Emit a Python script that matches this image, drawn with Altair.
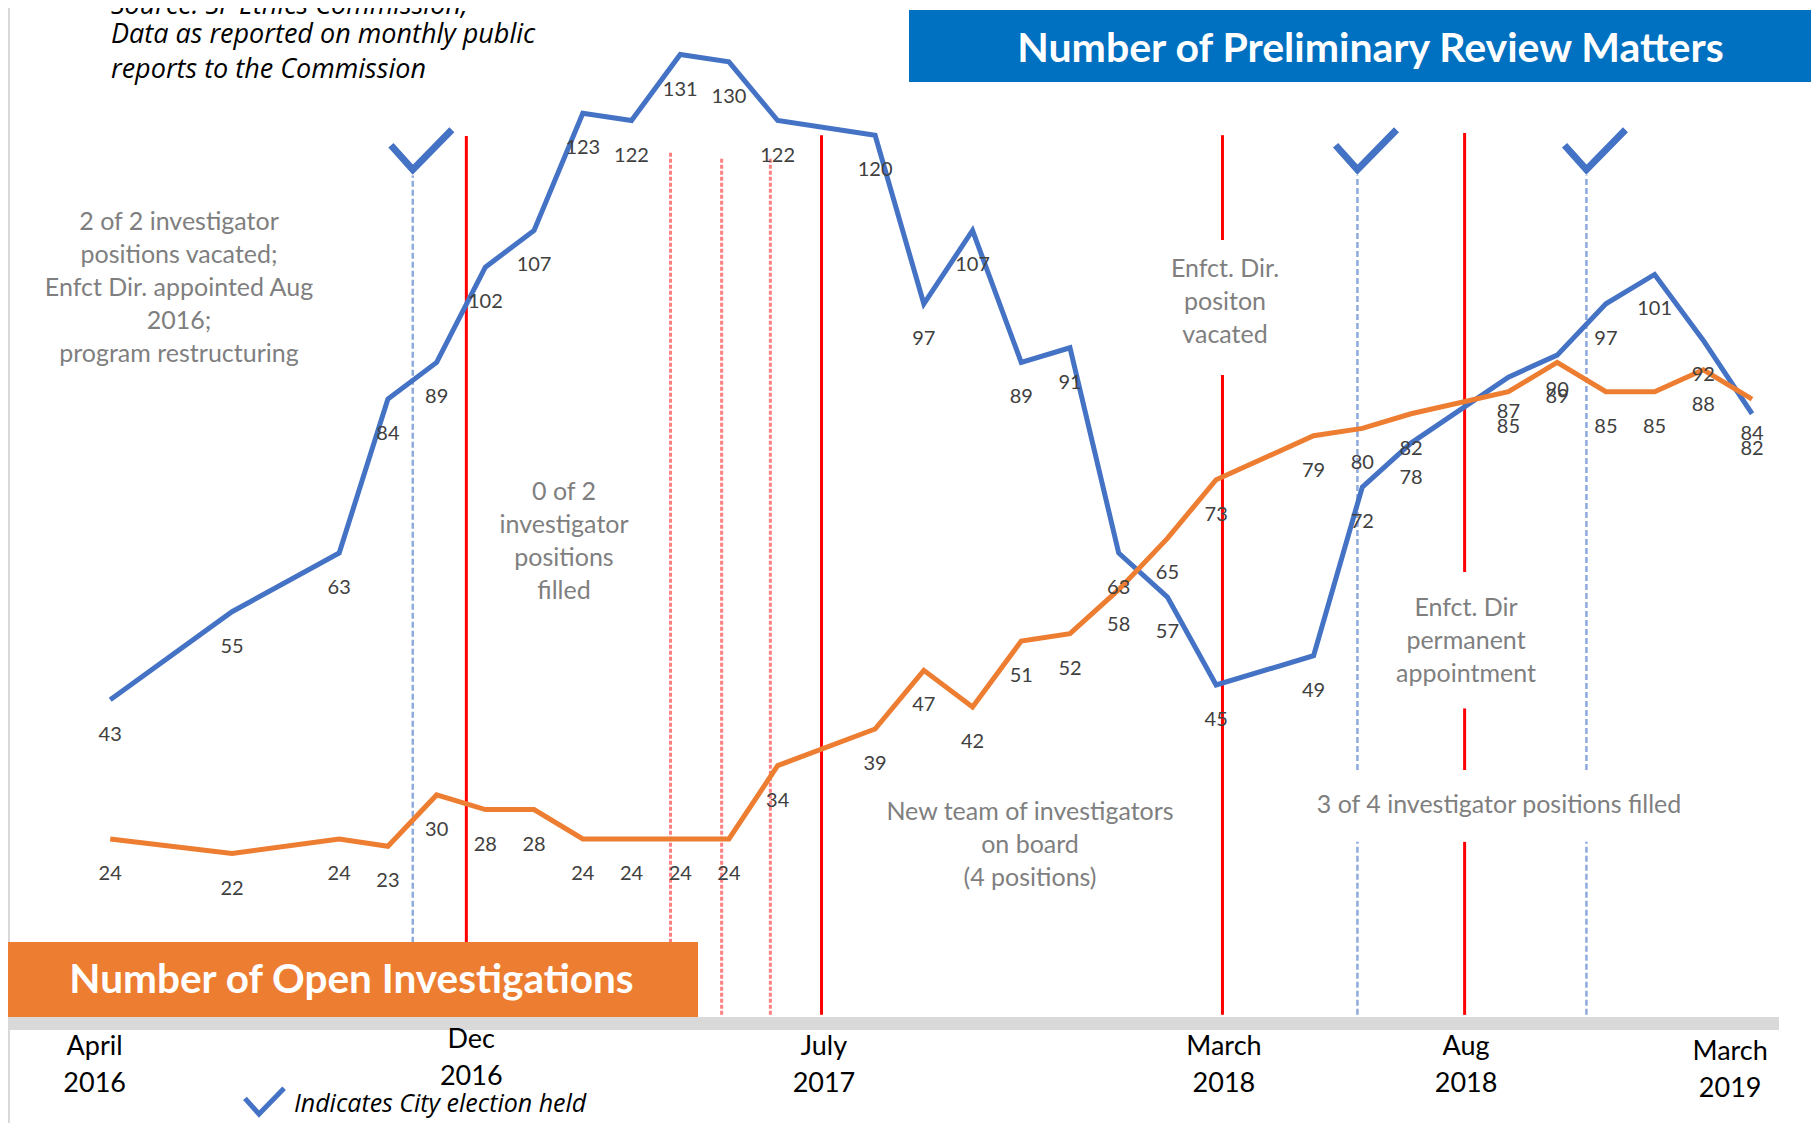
import altair as alt
import pandas as pd

# ---------------- data ----------------
# position of each monthly report on the time axis (one unit = one report step)
report_t = [0, 2.5, 4.7, 5.7, 6.7, 7.7, 8.7, 9.7, 10.7, 11.7, 12.7, 13.7, 15.7, 16.7, 17.7,
            18.7, 19.7, 20.7, 21.7, 22.7, 24.7, 25.7, 26.7, 28.7, 29.7, 30.7, 31.7, 32.7, 33.7]
preliminary = [43, 55, 63, 84, 89, 102, 107, 123, 122, 131, 130, 122, 120, 97, 107,
               89, 91, 63, 57, 45, 49, 72, 78, 87, 90, 97, 101, 92, 82]
investigations = [24, 22, 24, 23, 30, 28, 28, 24, 24, 24, 24, 34, 39, 47, 42,
                  51, 52, 58, 65, 73, 79, 80, 82, 85, 89, 85, 85, 88, 84]

# period labels under the axis
period_t = [-0.32, 7.41, 14.65, 22.86, 27.83, 33.25]
period_month = ["April", "Dec", "July", "March", "Aug", "March"]
period_year = ["2016", "2016", "2017", "2018", "2018", "2019"]

# events
election_t = [6.21, 25.6, 30.3]
check_level = 115.3
election_seg_t = [6.21, 25.6, 25.6, 30.3, 30.3]
election_seg_lo = [0, 0, 33.4, 0, 33.4]
election_seg_hi = [114.5, 23.6, 114.5, 23.6, 114.5]

staff_t = [7.31, 14.6, 22.83, 22.83, 27.8, 27.8, 27.8]
staff_lo = [0, 0, 0, 105.7, 0, 33.4, 60.4]
staff_hi = [119.9, 120, 87.3, 120, 23.6, 41.8, 120.3]

hire_t = [11.5, 12.55, 13.55]
hire_lo = [0, 0, 0]
hire_hi = [117.6, 117, 117]

notes = [
    "2 of 2 investigator\npositions vacated;\nEnfct Dir. appointed Aug\n2016;\nprogram restructuring",
    "0 of 2\ninvestigator\npositions\nfilled",
    "Enfct. Dir.\npositon\nvacated",
    "New team of investigators\non board\n(4 positions)",
    "Enfct. Dir\npermanent\nappointment",
    "3 of 4 investigator positions filled",
]
source_line1 = "Source: SF Ethics Commission,"
source_rest = "Data as reported on monthly public\nreports to the Commission"
legend_text = "Indicates City election held"
title_prelim = "Number of Preliminary Review Matters"
title_invest = "Number of Open Investigations"

# ---------------- layout ----------------
W, H = 1803, 1115
XMIN, XMAX = -2.098, 34.91
YMIN, YMAX = -14.75, 137.35


def t_of(px):
    return XMIN + px / W * (XMAX - XMIN)


def v_of(py):
    return YMAX - py / H * (YMAX - YMIN)


xs = alt.Scale(domain=[XMIN, XMAX], nice=False, zero=False)
ys = alt.Scale(domain=[YMIN, YMAX], nice=False, zero=False)


def X(f):
    return alt.X(f, type="quantitative", scale=xs, axis=None)


def Y(f):
    return alt.Y(f, type="quantitative", scale=ys, axis=None)


one = pd.DataFrame({"a": [0]})

# ---------------- layers ----------------
series = pd.DataFrame({"t": report_t, "prelim": preliminary, "invest": investigations})

election_rules = alt.Chart(pd.DataFrame({"t": election_seg_t, "lo": election_seg_lo, "hi": election_seg_hi})).mark_rule(
    color="#8FAADC", strokeWidth=2.5, strokeDash=[6, 3]
).encode(x=X("t"), y=Y("lo"), y2="hi:Q")

hire_rules = alt.Chart(pd.DataFrame({"t": hire_t, "lo": hire_lo, "hi": hire_hi})).mark_rule(
    color="#FF8080", strokeWidth=3, strokeDash=[4, 2]
).encode(x=X("t"), y=Y("lo"), y2="hi:Q")

staff_rules = alt.Chart(pd.DataFrame({"t": staff_t, "lo": staff_lo, "hi": staff_hi})).mark_rule(
    color="#FF0000", strokeWidth=3
).encode(x=X("t"), y=Y("lo"), y2="hi:Q")

blue_line = alt.Chart(series).mark_line(color="#4472C4", strokeWidth=5).encode(x=X("t"), y=Y("prelim"))
orange_line = alt.Chart(series).mark_line(color="#ED7D31", strokeWidth=5).encode(x=X("t"), y=Y("invest"))

lab_style = dict(font="Lato", fontSize=20, color="#404040", dy=35, align="center", baseline="middle")
blue_lab = alt.Chart(series).mark_text(**lab_style).encode(x=X("t"), y=Y("prelim"), text="prelim:Q")
orange_lab = alt.Chart(series).mark_text(**lab_style).encode(x=X("t"), y=Y("invest"), text="invest:Q")

CHECK = "M-0.52,-0.58L0,0L0.93,-0.95"
checks = alt.Chart(pd.DataFrame({"t": election_t, "v": [check_level] * len(election_t)})).mark_point(
    shape=CHECK, filled=False, color="#4472C4", strokeWidth=7, size=7056, opacity=1
).encode(x=X("t"), y=Y("v"))

note_px = [(171, 222), (556, 492), (1217, 269), (1022, 812), (1458, 608), (1491, 805)]
notes_df = pd.DataFrame({
    "text": notes,
    "t": [t_of(p[0]) for p in note_px],
    "v": [v_of(p[1]) for p in note_px],
})
notes_layer = alt.Chart(notes_df).mark_text(
    font="Lato", fontSize=25, color="#7F7F7F", align="center", baseline="alphabetic",
    lineBreak="\n", lineHeight=33
).encode(x=X("t"), y=Y("v"), text="text:N")

# title boxes
blue_box = alt.Chart(one).mark_rect(color="#0070C0").encode(
    x=alt.value(901), x2=alt.value(W), y=alt.value(2), y2=alt.value(74))
blue_title = alt.Chart(pd.DataFrame({"text": [title_prelim], "t": [t_of(1362.5)], "v": [v_of(54)]})).mark_text(
    font="Lato", fontSize=41, fontWeight="bold", color="white", align="center", baseline="alphabetic"
).encode(x=X("t"), y=Y("v"), text="text:N")

orange_box = alt.Chart(one).mark_rect(color="#ED7D31").encode(
    x=alt.value(0), x2=alt.value(690), y=alt.value(934), y2=alt.value(1009))
orange_title = alt.Chart(pd.DataFrame({"text": [title_invest], "t": [t_of(343.5)], "v": [v_of(985)]})).mark_text(
    font="Lato", fontSize=40.5, fontWeight="bold", color="white", align="center", baseline="alphabetic"
).encode(x=X("t"), y=Y("v"), text="text:N")

band = alt.Chart(one).mark_rect(color="#D9D9D9").encode(
    x=alt.value(0), x2=alt.value(1771), y=alt.value(1009), y2=alt.value(1022))
left_border = alt.Chart(one).mark_rule(color="#D9D9D9", strokeWidth=2).encode(
    x=alt.value(1), y=alt.value(0), y2=alt.value(H))

period_base = [1047, 1040, 1047, 1047, 1047, 1052]
period_df = pd.DataFrame({
    "text": [m + "\n" + y for m, y in zip(period_month, period_year)],
    "t": period_t,
    "v": [v_of(b) for b in period_base],
})
period_layer = alt.Chart(period_df).mark_text(
    font="Lato", fontSize=27, color="#000000", align="center", baseline="alphabetic",
    lineBreak="\n", lineHeight=37
).encode(x=X("t"), y=Y("v"), text="text:N")

source_1 = alt.Chart(pd.DataFrame({"text": [source_line1], "t": [t_of(103)], "v": [v_of(6)]})).mark_text(
    font="Open Sans", fontSize=27, fontStyle="italic", color="#000000", align="left", baseline="alphabetic"
).encode(x=X("t"), y=Y("v"), text="text:N")
source_2 = alt.Chart(pd.DataFrame({"text": [source_rest], "t": [t_of(103)], "v": [v_of(35)]})).mark_text(
    font="Open Sans", fontSize=27, fontStyle="italic", color="#000000", align="left", baseline="alphabetic",
    lineBreak="\n", lineHeight=35
).encode(x=X("t"), y=Y("v"), text="text:N")

legend_check = alt.Chart(pd.DataFrame({"t": [t_of(251)], "v": [v_of(1106)]})).mark_point(
    shape=CHECK, filled=False, color="#4472C4", strokeWidth=5, size=2916, opacity=1
).encode(x=X("t"), y=Y("v"))
legend_label = alt.Chart(pd.DataFrame({"text": [legend_text], "t": [t_of(286)], "v": [v_of(1104)]})).mark_text(
    font="Open Sans", fontSize=25, fontStyle="italic", color="#000000", align="left", baseline="alphabetic"
).encode(x=X("t"), y=Y("v"), text="text:N")

chart = alt.layer(
    election_rules, hire_rules, staff_rules,
    blue_line, orange_line, blue_lab, orange_lab, checks,
    notes_layer,
    band, left_border,
    blue_box, blue_title, orange_box, orange_title,
    period_layer, source_1, source_2, legend_check, legend_label,
).properties(
    width=W, height=H, padding=0, autosize=alt.AutoSizeParams(type="none")
).configure_view(stroke=None)

chart.save("out.html", embed_options={"renderer": "svg", "actions": False})
